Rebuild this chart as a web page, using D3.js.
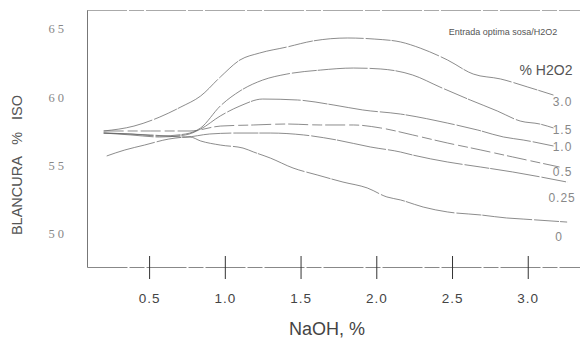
<!DOCTYPE html>
<html>
<head>
<meta charset="utf-8">
<script src="https://cdn.jsdelivr.net/npm/d3@7"></script>
<style>
  body { margin: 0; background: #fff; }
  svg { display: block; }
  .tickLabel { font-family: "Liberation Sans", Arial, sans-serif; }
</style>
</head>
<body>
<svg id="chart" width="580" height="342"></svg>
<script>
// --- data (NaOH %, Blancura % ISO) ---
const naohTicks = [0.5, 1.0, 1.5, 2.0, 2.5, 3.0];
const blancuraTicks = [50, 55, 60, 65];
const h2o2Labels = ["3.0", "1.5", "1.0", "0.5", "0.25", "0"];

const h2o2_30 = [[0.20,57.52],[0.40,57.88],[0.57,58.54],[0.71,59.28],[0.84,60.08],[0.97,61.47],[1.10,62.72],[1.23,63.23],[1.41,63.67],[1.58,64.11],[1.81,64.33],[1.99,64.25],[2.16,64.04],[2.29,63.59],[2.47,62.72],[2.64,61.69],[2.82,61.33],[3.00,60.74],[3.17,60.15]];
const h2o2_15 = [[0.20,57.37],[0.38,57.30],[0.57,57.15],[0.74,57.30],[0.84,57.74],[0.97,59.35],[1.10,60.45],[1.25,61.25],[1.41,61.69],[1.63,61.98],[1.85,62.13],[2.03,62.06],[2.24,61.62],[2.42,60.74],[2.62,59.79],[2.80,58.98],[2.95,58.25],[3.08,58.03],[3.17,57.74]];
const h2o2_10 = [[0.20,57.37],[0.38,57.23],[0.57,57.08],[0.74,57.23],[0.84,57.66],[0.97,58.62],[1.10,59.35],[1.25,59.86],[1.48,59.79],[1.72,59.42],[1.91,59.06],[2.16,58.76],[2.47,58.10],[2.67,57.59],[2.84,57.08],[2.97,56.86],[3.17,56.42]];
const h2o2_05 = [[0.20,57.52],[0.51,57.52],[0.77,57.52],[0.97,57.88],[1.19,57.96],[1.41,58.03],[1.63,57.96],[1.85,57.96],[2.03,57.74],[2.24,57.23],[2.47,56.64],[2.69,56.13],[2.90,55.62],[3.21,54.88]];
const h2o2_025 = [[0.20,57.37],[0.51,57.23],[0.74,57.08],[0.90,57.30],[1.08,57.37],[1.30,57.37],[1.52,57.23],[1.74,56.86],[1.96,56.35],[2.16,55.98],[2.24,55.76],[2.47,55.25],[2.69,54.88],[2.90,54.52],[3.26,53.78]];
const h2o2_0 = [[0.22,55.69],[0.34,56.13],[0.47,56.49],[0.63,56.93],[0.77,57.08],[0.84,56.79],[0.97,56.49],[1.12,56.27],[1.19,55.98],[1.30,55.54],[1.45,54.81],[1.61,54.30],[1.78,53.78],[1.94,53.35],[2.07,52.69],[2.16,52.47],[2.31,51.95],[2.47,51.59],[2.69,51.37],[2.86,51.15],[2.97,51.07],[3.26,50.85]];

const allSeries = [h2o2_30, h2o2_15, h2o2_10, h2o2_05, h2o2_025, h2o2_0];

// label offsets from each curve's end (px)
const labelOffsets = [[9,7],[9,2],[9,1],[3,5],[-5,16],[-8,15]];

const svg = d3.select("#chart");
const margin = {left: 87, right: 580, top: 10, bottom: 267};

const x = d3.scaleLinear().domain([0.09, 3.345]).range([margin.left, margin.right]);
const y = d3.scaleLinear().domain([47.56, 66.38]).range([margin.bottom, margin.top]);

// top frame line (faint)
svg.append("line")
    .attr("x1", margin.left).attr("x2", margin.right)
    .attr("y1", margin.top + 0.5).attr("y2", margin.top + 0.5)
    .attr("stroke", "#aaa")
    .attr("stroke-dasharray", "40,2,15,2");

// x axis
const xAxis = svg.append("g")
    .attr("transform", "translate(0," + margin.bottom + ")")
    .call(d3.axisBottom(x)
        .tickValues(naohTicks)
        .tickSizeInner(12)
        .tickSizeOuter(0)
        .tickPadding(14)
        .tickFormat(d3.format(".1f")));
xAxis.select(".domain").attr("stroke", "#888").attr("stroke-dasharray", "40,2,15,2");
xAxis.selectAll(".tick line").attr("y1", -11).attr("stroke", "#333");
xAxis.selectAll(".tick text")
    .classed("tickLabel", true)
    .attr("font-size", 13.5)
    .attr("fill", "#444")
    .attr("letter-spacing", 1);

// y axis
const yAxis = svg.append("g")
    .attr("transform", "translate(" + margin.left + ",0)")
    .call(d3.axisLeft(y)
        .tickValues(blancuraTicks)
        .tickSize(0)
        .tickPadding(20));
yAxis.select(".domain").attr("stroke", "#777");
yAxis.selectAll(".tick text")
    .attr("font-family", "'Liberation Serif', 'DejaVu Serif', serif")
    .attr("font-size", 12.5)
    .attr("fill", "#888")
    .attr("letter-spacing", 3);

// axis titles
svg.append("text")
    .attr("x", 327).attr("y", 335)
    .attr("text-anchor", "middle")
    .attr("font-family", "'Liberation Sans', Arial, sans-serif")
    .attr("font-size", 18)
    .attr("fill", "#444")
    .text("NaOH, %");

svg.append("text")
    .attr("transform", "translate(22,165) rotate(-90)")
    .attr("text-anchor", "middle")
    .attr("font-family", "'Liberation Sans', Arial, sans-serif")
    .attr("font-size", 14.5)
    .attr("fill", "#555")
    .attr("word-spacing", 8)
    .text("BLANCURA % ISO");

// curves
const line = d3.line()
    .x(d => x(d[0]))
    .y(d => y(d[1]))
    .curve(d3.curveMonotoneX);

svg.append("g").selectAll("path")
    .data(allSeries)
    .join("path")
    .attr("d", line)
    .attr("fill", "none")
    .attr("stroke", "#666")
    .attr("stroke-opacity", 0.75)
    .attr("stroke-width", 1)
    .attr("stroke-dasharray", (d, i) => i === 3 ? "20,4,10,3" : "50,2,25,1");

// curve end labels
svg.append("g").selectAll("text")
    .data(allSeries)
    .join("text")
    .attr("x", (d, i) => x(d[d.length - 1][0]) + labelOffsets[i][0])
    .attr("y", (d, i) => y(d[d.length - 1][1]) + labelOffsets[i][1])
    .attr("dy", "0.35em")
    .attr("text-anchor", "middle")
    .attr("font-family", "'Liberation Sans', Arial, sans-serif")
    .attr("font-size", 12)
    .attr("fill", "#888")
    .attr("letter-spacing", 1)
    .text((d, i) => h2o2Labels[i]);

// annotations
svg.append("text")
    .attr("x", 503).attr("y", 35)
    .attr("text-anchor", "middle")
    .attr("font-family", "'Liberation Sans', Arial, sans-serif")
    .attr("font-size", 9)
    .attr("fill", "#555")
    .text("Entrada optima sosa/H2O2");

svg.append("text")
    .attr("x", 546).attr("y", 75)
    .attr("text-anchor", "middle")
    .attr("font-family", "'Liberation Sans', Arial, sans-serif")
    .attr("font-size", 14)
    .attr("fill", "#555")
    .text("% H2O2");
</script>
</body>
</html>
